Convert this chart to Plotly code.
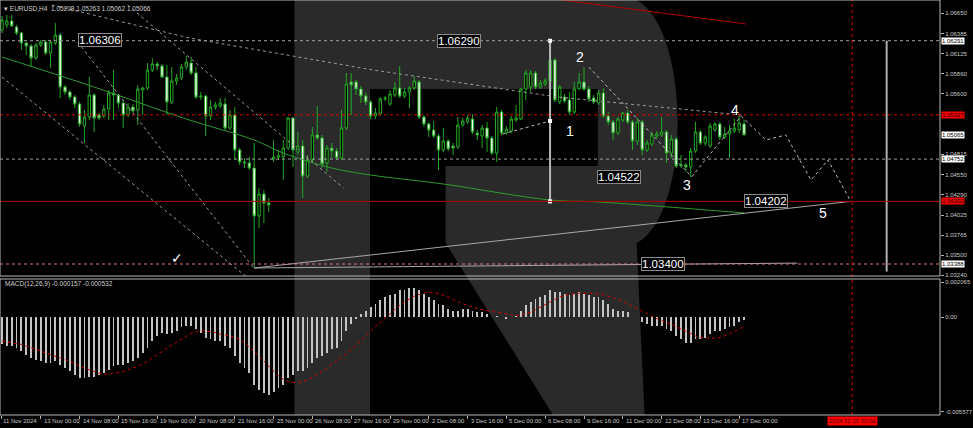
import plotly.graph_objects as go

# ---------------- data ----------------
bar_index = list(range(154))

open_ = [1.06430,1.06495,1.06547,1.06469,1.06391,1.06261,1.06222,1.06066,1.06235,1.06274,
 1.06131,1.06261,1.06365,1.05689,1.05624,1.05559,1.05468,1.05182,1.05299,1.05585,
 1.05325,1.05312,1.05403,1.05611,1.05585,1.05481,1.05325,1.05429,1.05390,1.05650,
 1.05676,1.05910,1.05988,1.05962,1.05819,1.05494,1.05767,1.05806,1.05949,1.06001,
 1.05871,1.05559,1.05572,1.05312,1.05429,1.05442,1.05468,1.05156,1.05325,1.04870,
 1.04714,1.04701,1.04636,1.04012,1.04298,1.04181,1.04753,1.04779,1.04779,1.04896,
 1.05286,1.04844,1.04922,1.04532,1.04740,1.05065,1.05026,1.04701,1.04896,1.04857,
 1.04766,1.05156,1.05754,1.05754,1.05663,1.05572,1.05494,1.05312,1.05338,1.05533,
 1.05468,1.05585,1.05676,1.05572,1.05624,1.05676,1.05754,1.05299,1.05208,1.05130,
 1.05052,1.04870,1.04987,1.04922,1.04909,1.05195,1.05234,1.05273,1.05091,1.05052,
 1.05156,1.05026,1.04831,1.05364,1.05091,1.05117,1.05260,1.05273,1.05663,1.05689,
 1.05871,1.05689,1.05728,1.05767,1.06040,1.05494,1.05559,1.05520,1.05364,1.05663,
 1.05754,1.05663,1.05546,1.05481,1.05611,1.05312,1.05234,1.05091,1.05260,1.05351,
 1.05234,1.04987,1.05234,1.04870,1.04948,1.05052,1.05065,1.05104,1.04831,1.05013,
 1.04662,1.04675,1.04649,1.04857,1.05104,1.04961,1.04922,1.05130,1.05208,1.05039,
 1.05078,1.05117,1.05130,1.05208]
high = [1.06612,1.06625,1.06625,1.06495,1.06404,1.06274,1.06248,1.06261,1.06300,1.06300,
 1.06300,1.06521,1.06391,1.05715,1.05650,1.05585,1.05494,1.05390,1.05819,1.05611,
 1.05351,1.05455,1.05650,1.05910,1.05598,1.05520,1.05481,1.05468,1.05715,1.05689,
 1.06001,1.06066,1.06014,1.05988,1.05975,1.05949,1.05858,1.05988,1.06092,1.06079,
 1.05949,1.05624,1.05585,1.05520,1.05494,1.05546,1.05546,1.05390,1.05429,1.04896,
 1.04766,1.04779,1.04961,1.04376,1.04350,1.04246,1.05000,1.04870,1.05000,1.05299,
 1.05299,1.05104,1.05000,1.04805,1.05169,1.05442,1.05065,1.04935,1.04961,1.04896,
 1.05390,1.05871,1.05871,1.05780,1.05702,1.05611,1.05520,1.05416,1.05559,1.05572,
 1.05650,1.05754,1.05962,1.05676,1.05702,1.05832,1.05780,1.05325,1.05234,1.05247,
 1.05078,1.05156,1.05013,1.04961,1.05299,1.05286,1.05325,1.05338,1.05130,1.05195,
 1.05234,1.05052,1.05429,1.05390,1.05182,1.05312,1.05455,1.05676,1.05910,1.05910,
 1.05897,1.05780,1.05806,1.06287,1.06066,1.05715,1.05598,1.05624,1.05754,1.05871,
 1.05949,1.05702,1.05585,1.05650,1.05676,1.05364,1.05260,1.05299,1.05364,1.05390,
 1.05260,1.05286,1.05260,1.05000,1.05104,1.05117,1.05299,1.05130,1.05065,1.05039,
 1.04805,1.04701,1.04896,1.05234,1.05130,1.05065,1.05221,1.05234,1.05234,1.05169,
 1.05195,1.05273,1.05325,1.05263]
low = [1.06391,1.06456,1.06469,1.06365,1.06170,1.06105,1.05949,1.06040,1.06209,1.06105,
 1.05936,1.06235,1.05546,1.05585,1.05520,1.05416,1.05169,1.04961,1.05260,1.05104,
 1.05260,1.05286,1.05260,1.05260,1.05416,1.05156,1.05299,1.05351,1.05195,1.05325,
 1.05650,1.05884,1.05910,1.05806,1.05325,1.05468,1.05715,1.05780,1.05910,1.05845,
 1.05533,1.05520,1.05052,1.05260,1.05390,1.05416,1.05130,1.05130,1.04740,1.04675,
 1.04636,1.04610,1.03336,1.03856,1.03921,1.04064,1.04714,1.04740,1.04480,1.04870,
 1.04649,1.04805,1.04246,1.04506,1.04714,1.05000,1.04636,1.04584,1.04766,1.04740,
 1.04740,1.05130,1.05325,1.05585,1.05481,1.05455,1.05273,1.05273,1.05312,1.05507,
 1.05442,1.05559,1.05546,1.05546,1.05416,1.05650,1.05273,1.05169,1.05039,1.05026,
 1.04610,1.04844,1.04857,1.04805,1.04883,1.05169,1.05208,1.05078,1.05000,1.04896,
 1.04844,1.04805,1.04714,1.05065,1.05065,1.05091,1.05234,1.05260,1.05520,1.05624,
 1.05663,1.05663,1.05702,1.05741,1.05494,1.05468,1.05481,1.05325,1.05338,1.05650,
 1.05637,1.05494,1.05468,1.05455,1.05286,1.05195,1.05000,1.05065,1.05234,1.05208,
 1.04870,1.04935,1.04805,1.04844,1.04922,1.05026,1.05039,1.04701,1.04766,1.04636,
 1.04636,1.04584,1.04522,1.04831,1.04935,1.04922,1.04896,1.05104,1.05000,1.05013,
 1.04766,1.05091,1.05091,1.05062]
close = [1.06560,1.06547,1.06482,1.06391,1.06261,1.06222,1.06066,1.06235,1.06274,1.06131,
 1.06274,1.06365,1.05689,1.05624,1.05559,1.05468,1.05208,1.05299,1.05585,1.05286,
 1.05286,1.05403,1.05611,1.05585,1.05481,1.05325,1.05429,1.05377,1.05663,1.05676,
 1.05910,1.05988,1.05962,1.05819,1.05494,1.05767,1.05806,1.05949,1.06014,1.05871,
 1.05559,1.05572,1.05312,1.05429,1.05455,1.05481,1.05156,1.05325,1.04870,1.04714,
 1.04701,1.04636,1.04012,1.04298,1.04181,1.04155,1.04779,1.04792,1.04896,1.05286,
 1.04870,1.04922,1.04532,1.04740,1.05065,1.05026,1.04688,1.04896,1.04857,1.04766,
 1.05156,1.05728,1.05715,1.05663,1.05572,1.05494,1.05312,1.05351,1.05533,1.05546,
 1.05598,1.05676,1.05572,1.05624,1.05676,1.05767,1.05299,1.05208,1.05130,1.05052,
 1.04870,1.04987,1.04883,1.04896,1.05195,1.05247,1.05286,1.05104,1.05065,1.05156,
 1.05026,1.04831,1.05364,1.05091,1.05143,1.05273,1.05286,1.05663,1.05871,1.05871,
 1.05689,1.05741,1.05767,1.06040,1.05520,1.05689,1.05507,1.05364,1.05663,1.05754,
 1.05663,1.05533,1.05494,1.05611,1.05312,1.05234,1.05091,1.05273,1.05351,1.05234,
 1.04987,1.05234,1.04870,1.04961,1.05065,1.05078,1.05104,1.04831,1.05013,1.04662,
 1.04675,1.04649,1.04857,1.05104,1.04961,1.05039,1.05182,1.05208,1.05039,1.05078,
 1.05117,1.05156,1.05221,1.05066]

# slow moving average (read at a few bars)
ma_index = [0, 19, 38, 52, 58, 68, 76, 91, 113, 123, 153]
ma_value = [1.06079, 1.05689, 1.05273, 1.05000, 1.04831, 1.04636, 1.04545, 1.04428, 1.04220, 1.04194, 1.04051]

macd_main = [-0.0016,-0.0017,-0.0017,-0.0018,-0.0020,-0.0022,-0.0024,-0.0025,-0.0026,-0.0027,
 -0.0027,-0.0026,-0.0028,-0.0030,-0.0032,-0.0034,-0.0036,-0.0036,-0.0035,-0.0035,
 -0.0034,-0.0033,-0.0031,-0.0029,-0.0028,-0.0028,-0.0027,-0.0026,-0.0024,-0.0021,
 -0.0018,-0.0014,-0.0011,-0.0009,-0.0010,-0.0009,-0.0008,-0.0006,-0.0005,-0.0005,
 -0.0007,-0.0009,-0.0012,-0.0013,-0.0014,-0.0014,-0.0017,-0.0018,-0.0023,-0.0027,
 -0.0030,-0.0033,-0.0040,-0.0043,-0.0045,-0.0046,-0.0044,-0.0042,-0.0040,-0.0036,
 -0.0034,-0.0032,-0.0032,-0.0030,-0.0027,-0.0024,-0.0023,-0.0021,-0.0019,-0.0018,
 -0.0014,-0.0008,-0.0004,-0.0001,0.0002,0.0004,0.0006,0.0008,0.0010,0.0012,
 0.0013,0.0014,0.0016,0.0016,0.0017,0.0017,0.0016,0.0014,0.0012,0.0010,
 0.0008,0.0007,0.0005,0.0004,0.0004,0.0005,0.0005,0.0004,0.0003,0.0003,
 0.0002,0.0000,0.0001,0.0000,-0.0001,0.0000,0.0001,0.0004,0.0007,0.0009,
 0.0011,0.0012,0.0013,0.0016,0.0015,0.0015,0.0014,0.0013,0.0014,0.0015,
 0.0014,0.0013,0.0012,0.0012,0.0010,0.0008,0.0005,0.0004,0.0004,0.0003,
 0.0000,0.0000,-0.0003,-0.0004,-0.0005,-0.0005,-0.0005,-0.0007,-0.0008,-0.0011,
 -0.0013,-0.0015,-0.0015,-0.0013,-0.0013,-0.0012,-0.0010,-0.0008,-0.0008,-0.0007,
 -0.0006,-0.0005,-0.0003,-0.000157]
macd_signal = [-0.00140,-0.00145,-0.00150,-0.00155,-0.00160,-0.00170,-0.00180,-0.00190,-0.00200,-0.00210,
 -0.00220,-0.00230,-0.00240,-0.00250,-0.00260,-0.00275,-0.00290,-0.00300,-0.00310,-0.00320,
 -0.00330,-0.00335,-0.00335,-0.00330,-0.00325,-0.00320,-0.00310,-0.00300,-0.00290,-0.00275,
 -0.00260,-0.00240,-0.00220,-0.00200,-0.00180,-0.00160,-0.00145,-0.00130,-0.00110,-0.00095,
 -0.00085,-0.00080,-0.00080,-0.00085,-0.00090,-0.00100,-0.00105,-0.00110,-0.00120,-0.00130,
 -0.00150,-0.00175,-0.00200,-0.00230,-0.00260,-0.00290,-0.00320,-0.00345,-0.00365,-0.00380,
 -0.00385,-0.00385,-0.00380,-0.00370,-0.00355,-0.00340,-0.00320,-0.00300,-0.00280,-0.00260,
 -0.00240,-0.00215,-0.00190,-0.00165,-0.00140,-0.00110,-0.00080,-0.00055,-0.00030,0.00000,
 0.00025,0.00050,0.00070,0.00090,0.00110,0.00125,0.00135,0.00145,0.00145,0.00145,
 0.00140,0.00130,0.00120,0.00105,0.00090,0.00080,0.00070,0.00060,0.00050,0.00045,
 0.00040,0.00035,0.00030,0.00025,0.00020,0.00015,0.00010,0.00013,0.00020,0.00030,
 0.00045,0.00060,0.00075,0.00090,0.00105,0.00120,0.00130,0.00135,0.00140,0.00142,
 0.00143,0.00142,0.00140,0.00137,0.00133,0.00125,0.00115,0.00105,0.00095,0.00080,
 0.00065,0.00050,0.00035,0.00020,0.00005,-0.00008,-0.00020,-0.00030,-0.00040,-0.00055,
 -0.00070,-0.00085,-0.00100,-0.00110,-0.00118,-0.00123,-0.00125,-0.00123,-0.00120,-0.00110,
 -0.00098,-0.00085,-0.00070,-0.000532]

tick_index = [0, 8, 16, 24, 32, 40, 48, 56, 64, 72, 80, 88, 96, 104, 112, 120, 128, 136, 144, 152]
tick_text = ["11 Nov 2024", "13 Nov 00:00", "14 Nov 08:00", "15 Nov 16:00", "19 Nov 00:00",
             "20 Nov 08:00", "21 Nov 16:00", "25 Nov 00:00", "26 Nov 08:00", "27 Nov 16:00",
             "29 Nov 00:00", "2 Dec 08:00", "3 Dec 16:00", "5 Dec 00:00", "6 Dec 08:00",
             "9 Dec 16:00", "11 Dec 00:00", "12 Dec 08:00", "13 Dec 16:00", "17 Dec 00:00"]
price_ticks = [1.06650, 1.06385, 1.06125, 1.05860, 1.05600, 1.04815, 1.04550, 1.04290,
               1.04025, 1.03765, 1.03500, 1.03240]
macd_ticks = [0.002065, 0.0, -0.005577]
macd_tick_text = ["0.002065", "0.00", "-0.005577"]

# price levels (horizontal lines) and their axis labels
level_price = [1.06291, 1.05327, 1.05065, 1.04752, 1.04202, 1.03388]
level_label = ["1.06291", "1.05327", "1.05065", "1.04752", "1.04202", "1.03388"]

# wave labels
wave_text = ["1", "2", "3", "4", "5"]
wave_x = [117.1, 119.2, 141.3, 151.2, 169.2]
wave_y = [1.05117, 1.06079, 1.04415, 1.05390, 1.04051]

# price boxes
box_text = ["1.06306", "1.06290", "1.04522", "1.04202", "1.03400"]
box_x = [20.2, 94.3, 127.3, 157.5, 136.3]
box_y = [1.06306, 1.06290, 1.04522, 1.04202, 1.03390]

# ---------------- styling ----------------
GREEN = "#23a823"
GRID_TXT = "#c8c8c8"
FONT = "Liberation Sans"
W_PLOT, H_PLOT = 945.0, 415.0
X_RANGE = [-0.41, 193.4]


def pp(x, y):
    return f"{x / W_PLOT:.5f},{1 - y / H_PLOT:.5f}"


fig = go.Figure()

fig.add_trace(go.Candlestick(
    x=bar_index, open=open_, high=high, low=low, close=close,
    increasing=dict(line=dict(color=GREEN, width=1), fillcolor="#000000"),
    decreasing=dict(line=dict(color=GREEN, width=1), fillcolor="#ffffff"),
    whiskerwidth=0, xaxis="x", yaxis="y", hoverinfo="skip"))

fig.add_trace(go.Scatter(x=ma_index, y=ma_value, mode="lines", line=dict(color="#2f9a2f", width=1, shape="spline"),
                         xaxis="x", yaxis="y", hoverinfo="skip"))


def seg(xs, ys, color, width=1, dash=None, axis=("x", "y")):
    fig.add_trace(go.Scatter(x=xs, y=ys, mode="lines", line=dict(color=color, width=width, dash=dash),
                             xaxis=axis[0], yaxis=axis[1], hoverinfo="skip"))


DOT = "#bdbdbd"
seg([10.3, 38.6, 76.5, 114.5, 152.4], [1.06755, 1.06326, 1.05910, 1.05559, 1.05325], "#9a9a9a", 1, "dot")
seg([25.9, 70.4], [1.06755, 1.04376], "#9a9a9a", 1, "dot")
seg([0.0, 50.5], [1.05819, 1.03216], "#9a9a9a", 1, "dot")
seg([15.6, 51.9], [1.06274, 1.03336], "#9a9a9a", 1, "dot")
seg([103.2, 113.0], [1.05078, 1.05247], DOT, 1, "dot")
seg([121.0, 142.2], [1.05949, 1.04522], DOT, 1, "dot")
seg([142.2, 152.4], [1.04522, 1.05312], DOT, 1, "dot")
seg([152.4, 157.5, 161.6, 166.8, 170.3, 175.0], [1.05312, 1.05000, 1.05065, 1.04480, 1.04740, 1.04202], DOT, 1, "dot")
seg([52.0, 175.0], [1.03336, 1.04202], "#a8a8a8", 1)
seg([52.0, 164.0], [1.03336, 1.03400], "#a8a8a8", 1)
seg([115.5, 153.4], [1.06820, 1.06508], "#b40000", 1)
seg([113.0, 113.0], [1.06290, 1.04202], "#b8b8b8", 2)
fig.add_trace(go.Scatter(x=[113.0, 113.0, 113.0], y=[1.06290, 1.04202, 1.05247], mode="markers",
                         marker=dict(symbol="square", size=4, color="white"), xaxis="x", yaxis="y", hoverinfo="skip"))
seg([182.4, 182.4], [1.06291, 1.03290], "#b0b0b0", 2)

# MACD
fig.add_trace(go.Bar(x=bar_index, y=macd_main, width=0.38, marker=dict(color="#c4c4c4", line=dict(width=0)),
                     xaxis="x2", yaxis="y2", hoverinfo="skip"))
fig.add_trace(go.Scatter(x=bar_index, y=macd_signal, mode="lines", line=dict(color="#d00000", width=1, dash="dot"),
                         xaxis="x2", yaxis="y2", hoverinfo="skip"))

shapes = []
outer = ("M" + pp(296, 0) + " L" + pp(640, 0) + " C" + pp(695, 30) + " " + pp(695, 215) + " " + pp(640, 243)
         + " L" + pp(648, 415) + " L" + pp(556, 415) + " L" + pp(448, 243) + " L" + pp(448, 166)
         + " L" + pp(372, 166) + " L" + pp(372, 415) + " L" + pp(296, 415) + " Z")
hole = "M" + pp(372, 89) + " L" + pp(372, 166) + " L" + pp(601, 166) + " L" + pp(601, 89) + " Z"
shapes.append(dict(type="path", path=outer + " " + hole, xref="paper", yref="paper",
                   fillcolor="#2a2a2a", line=dict(width=0), layer="below"))

level_style = [("#a0a0a0", "dot", 1), ("#e00000", "dot", 1), (None, None, 0), ("#a0a0a0", "dot", 1),
               ("#b00000", "solid", 1), ("#e07070", "dot", 1)]
for p, (c, d, w) in zip(level_price, level_style):
    if c is None:
        continue
    shapes.append(dict(type="line", xref="paper", x0=0, x1=1, yref="y", y0=p, y1=p,
                       line=dict(color=c, dash=d, width=w), layer="above"))
shapes.append(dict(type="line", xref="x", x0=175.3, x1=175.3, yref="paper", y0=0, y1=1,
                   line=dict(color="#e00000", dash="dot", width=1)))
shapes.append(dict(type="rect", xref="paper", yref="paper", x0=0, x1=1, y0=1 - 276 / H_PLOT, y1=1,
                   line=dict(color="#b8b8b8", width=1)))
shapes.append(dict(type="rect", xref="paper", yref="paper", x0=0, x1=1, y0=0, y1=1 - 279 / H_PLOT,
                   line=dict(color="#b8b8b8", width=1)))

annotations = []
annotations.append(dict(text="▾ EURUSD,H4  1.05208 1.05263 1.05062 1.05066", xref="paper", yref="paper",
                        x=2 / W_PLOT, y=1 - 8 / H_PLOT, xanchor="left", yanchor="middle", showarrow=False,
                        font=dict(family=FONT, size=6.5, color="#d0d0d0")))
annotations.append(dict(text="MACD(12,26,9) -0.000157 -0.000532", xref="paper", yref="paper",
                        x=3 / W_PLOT, y=1 - 284 / H_PLOT, xanchor="left", yanchor="middle", showarrow=False,
                        font=dict(family=FONT, size=6.5, color="#d0d0d0")))
for t, x, y in zip(box_text, box_x, box_y):
    annotations.append(dict(text=t, x=x, y=y, xref="x", yref="y", showarrow=False,
                            font=dict(family=FONT, size=11.5, color="white"), bgcolor="black",
                            bordercolor="#8a8a8a", borderwidth=1, borderpad=0))
for t, x, y in zip(wave_text, wave_x, wave_y):
    annotations.append(dict(text=t, x=x, y=y, xref="x", yref="y", showarrow=False,
                            font=dict(family=FONT, size=14, color="white")))
annotations.append(dict(text="✓", x=36.1, y=1.03466, xref="x", yref="y", showarrow=False,
                        font=dict(family="DejaVu Sans", size=14, color="white")))
label_bg = ["white", "#ff0000", "white", "white", "#ff0000", "white"]
for p, t, bg in zip(level_price, level_label, label_bg):
    annotations.append(dict(text=t, x=1, y=p, xref="paper", yref="y", xanchor="left", yanchor="middle",
                            xshift=1, showarrow=False, bgcolor=bg, borderpad=0,
                            font=dict(family=FONT, size=6, color="black")))
for i, (ti, tt) in enumerate(zip(tick_index, tick_text)):
    annotations.append(dict(text=tt, x=ti - (0.25 if i == 0 else -0.2), y=-6 / H_PLOT, xref="x2", yref="paper",
                            xanchor="left", yanchor="middle", showarrow=False,
                            font=dict(family=FONT, size=6, color=GRID_TXT)))
annotations.append(dict(text="2024.12.20 20:00", x=175.3, y=-6 / H_PLOT, xref="x2", yref="paper",
                        xanchor="center", yanchor="middle", showarrow=False, bgcolor="#ff0000",
                        font=dict(family=FONT, size=6, color="#3a0000")))

axis_common = dict(range=X_RANGE, showgrid=False, zeroline=False, showline=False, fixedrange=True)
fig.update_layout(
    width=973, height=428, margin=dict(l=0, r=28, t=0, b=13),
    paper_bgcolor="black", plot_bgcolor="rgba(0,0,0,0)", showlegend=False,
    xaxis=dict(domain=[0, 1], anchor="y", showticklabels=False, ticks="", rangeslider=dict(visible=False),
               **axis_common),
    yaxis=dict(domain=[1 - 276 / H_PLOT, 1], range=[1.03232, 1.06820], side="right", anchor="x",
               tickvals=price_ticks, ticktext=[f"{v:.5f}" for v in price_ticks],
               tickfont=dict(family=FONT, size=6, color=GRID_TXT), ticks="outside", ticklen=3,
               tickcolor="#b0b0b0", showgrid=False, zeroline=False, fixedrange=True),
    xaxis2=dict(domain=[0, 1], anchor="y2", tickvals=tick_index, ticktext=[""] * len(tick_index),
                ticks="outside", ticklen=3, tickcolor="#b0b0b0", **axis_common),
    yaxis2=dict(domain=[0, 1 - 279 / H_PLOT], range=[-0.00577, 0.00226], side="right", anchor="x2",
                tickvals=macd_ticks, ticktext=macd_tick_text,
                tickfont=dict(family=FONT, size=6, color=GRID_TXT), ticks="outside", ticklen=3,
                tickcolor="#b0b0b0", showgrid=False, zeroline=False, fixedrange=True),
    shapes=shapes, annotations=annotations, bargap=0,
)

fig.write_html("out.html", config={"displayModeBar": False, "staticPlot": True},
               post_script="document.body.style.margin='0px';document.body.style.overflow='hidden';document.body.style.background='black';")
